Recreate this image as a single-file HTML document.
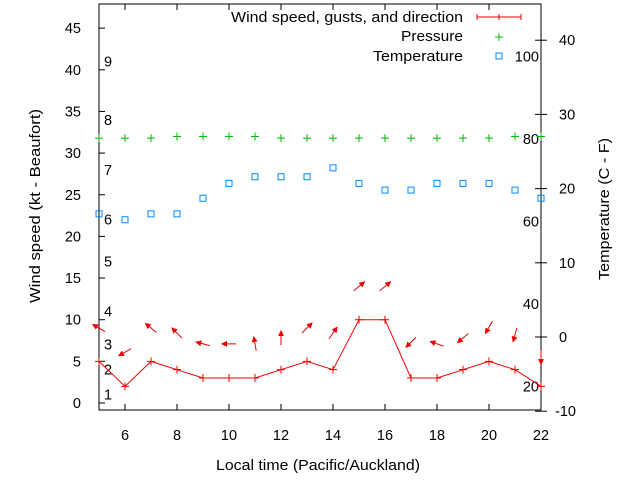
<!DOCTYPE html>
<html><head><meta charset="utf-8"><style>
body{margin:0;background:#fff;}
svg{display:block;font-family:"Liberation Sans",sans-serif;font-size:14.5px;}
</style></head><body>
<svg id="chart" width="640" height="480" xmlns="http://www.w3.org/2000/svg">
<g id="axes"></g>
<g id="marks"></g>
<text x="216" y="470" textLength="204" lengthAdjust="spacingAndGlyphs">Local time (Pacific/Auckland)</text>
<text transform="translate(40,303) rotate(-90)" textLength="194" lengthAdjust="spacingAndGlyphs">Wind speed (kt - Beaufort)</text>
<text transform="translate(609,280) rotate(-90)" textLength="142" lengthAdjust="spacingAndGlyphs">Temperature (C - F)</text>
<g>
<text x="231" y="22" textLength="232" lengthAdjust="spacingAndGlyphs">Wind speed, gusts, and direction</text>
<path d="M477,17H521M477,14V20M499,14V20M521,14V20" stroke="#e00" stroke-width="1"/>
<text x="401" y="41" textLength="62" lengthAdjust="spacingAndGlyphs">Pressure</text>
<path d="M495,37H503M499,33V41" stroke="#0b0"/>
<text x="373" y="61" textLength="90" lengthAdjust="spacingAndGlyphs">Temperature</text>
<rect x="496" y="53" width="6" height="6" fill="none" stroke="#08f"/>
</g>
</svg>
<script>
const hours=[5,6,7,8,9,10,11,12,13,14,15,16,17,18,19,20,21,22];
const wind=[5,2,5,4,3,3,3,4,5,4,10,10,3,3,4,5,4,2];
const arrowLevel=[9,6.1,9,8.4,7.1,7.1,7.1,7.8,9,8.4,14,14,7.3,7.1,7.8,9.1,8.2,5.5];
const direction=[300,240,310,315,285,270,350,0,45,35,50,50,225,290,230,210,195,180];
const pressure=[31.8,31.8,31.8,32,32,32,32,31.8,31.8,31.8,31.8,31.8,31.8,31.8,31.8,31.8,32,32];
const temperature=[16.6,15.8,16.6,16.6,18.7,20.7,21.6,21.6,21.6,22.8,20.7,19.8,19.8,20.7,20.7,20.7,19.8,18.7];
const xTicks=[6,8,10,12,14,16,18,20,22];
const yTicks=[0,5,10,15,20,25,30,35,40,45];
const y2Ticks=[-10,0,10,20,30,40];
const fLabels=[20,40,60,80,100];
const beaufort=[[1,1],[2,4],[3,7],[4,11],[5,17],[6,22],[7,28],[8,34],[9,41]];
const L=99,R=541,T=4,B=410;
const X=h=>L+(h-5)*26;
const Y=v=>403-v*8.33;
const Y2=c=>337-c*7.42;
const NS="http://www.w3.org/2000/svg";
function mk(p,tag,attrs){const e=document.createElementNS(NS,tag);for(const k in attrs)e.setAttribute(k,attrs[k]);p.appendChild(e);return e;}
const ax=document.getElementById('axes'),mg=document.getElementById('marks');
let e=mk(ax,'rect',{x:L,y:T,width:R-L,height:B-T,fill:'none',stroke:'#000'});


xTicks.forEach(t=>{const x=X(t);
 e=mk(ax,'path',{d:`M${x},${B}v-6M${x},${T}v6`,stroke:'#000'});
 
 
 e=mk(ax,'text',{x:x,y:440,'text-anchor':'middle'});e.textContent=t;
 
 });
yTicks.forEach(t=>{const y=Y(t);
 e=mk(ax,'path',{d:`M${L},${y}h6`,stroke:'#000'});
 
 
 e=mk(ax,'text',{x:81,y:y+5,'text-anchor':'end'});e.textContent=t;
 
 });
y2Ticks.forEach(t=>{const y=Y2(t);
 e=mk(ax,'path',{d:`M${R-6},${y}h12`,stroke:'#000'});
 
 
 e=mk(ax,'text',{x:t<0?555:559,y:y+5});e.textContent=t;
 
 });
fLabels.forEach(f=>{const y=Y2((f-32)*5/9);
 e=mk(ax,'text',{x:539,y:y+5,'text-anchor':'end'});e.textContent=f;
 
 });
beaufort.forEach(b=>{
 e=mk(ax,'text',{x:104,y:Y(b[1])+5});e.textContent=b[0];
 
 });
e=mk(mg,'polyline',{points:hours.map((h,i)=>X(h)+','+Y(wind[i])).join(' '),fill:'none',stroke:'#e00'});


hours.forEach((h,i)=>{const x=X(h),y=Y(wind[i]);
 e=mk(mg,'path',{d:`M${x-4},${y}h8M${x},${y-4}v8`,stroke:'#e00'});
 
 
 const a=direction[i]*Math.PI/180,cx=x,cy=Y(arrowLevel[i]);
 const dx=Math.sin(a)*7,dy=-Math.cos(a)*7;
 const hx=cx+dx,hy=cy+dy;
 const b1=a+Math.PI-0.45,b2=a+Math.PI+0.45;
 e=mk(mg,'path',{d:`M${cx-dx},${cy-dy}L${hx},${hy}M${hx+Math.sin(b1)*5},${hy-Math.cos(b1)*5}L${hx},${hy}L${hx+Math.sin(b2)*5},${hy-Math.cos(b2)*5}Z`,stroke:'#e00',fill:'#e00','stroke-width':1});
 
 
 const py=Y(pressure[i]);
 e=mk(mg,'path',{d:`M${x-4},${py}h8M${x},${py-4}v8`,stroke:'#0b0'});
 
 
 const ty=Y2(temperature[i]);
 e=mk(mg,'rect',{x:x-3,y:ty-3,width:6,height:6,fill:'none',stroke:'#08f'});
 
 
});
</script>
</body></html>
